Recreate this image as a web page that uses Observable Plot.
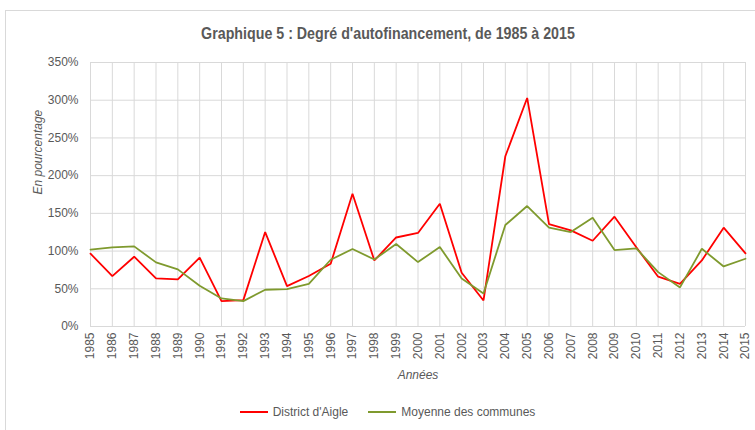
<!DOCTYPE html>
<html>
<head>
<meta charset="utf-8">
<script src="https://cdn.jsdelivr.net/npm/d3@7"></script>
<script src="https://cdn.jsdelivr.net/npm/@observablehq/plot@0.6"></script>
<style>
  html, body { margin: 0; padding: 0; background: #fff; overflow: hidden; }
  body { width: 755px; height: 430px; position: relative; font-family: "Liberation Sans Narrow", "Arial Narrow", "Liberation Sans", Arial, sans-serif; color: #595959; }
  #frame { position: absolute; left: 5px; top: 10px; width: 800px; height: 440px; border: 1px solid #d9d9d9; box-sizing: border-box; }
  #title { position: absolute; left: 0; top: 2px; width: 775px; height: 50px; text-align: center; font-weight: bold; font-size: 16px; line-height: 64px; }
  #title span { display: inline-block; transform: scaleX(0.89); transform-origin: center; }
  #chart { position: absolute; left: 0; top: 50px; }
  #legend { position: absolute; left: 0; top: 402px; width: 775px; text-align: center; font-size: 12px; line-height: 20px; }
  .sw { display: inline-block; vertical-align: middle; width: 28px; height: 2px; margin-right: 5px; position: relative; top: -1px; }
  .item { display: inline-block; margin: 0 10px; }
</style>
</head>
<body>
<div id="frame"></div>
<div id="title"><span>Graphique 5 : Degré d'autofinancement, de 1985 à 2015</span></div>
<div id="chart"></div>
<div id="legend"></div>
<script>
const years = [1985,1986,1987,1988,1989,1990,1991,1992,1993,1994,1995,1996,1997,1998,1999,2000,2001,2002,2003,2004,2005,2006,2007,2008,2009,2010,2011,2012,2013,2014,2015];
const aigle = [96.5,66.8,92.5,63.7,62.4,91.2,33.6,35,125.2,53.5,67,83.2,176,87.6,118,124,162.8,71.2,34.5,225.7,303,135.8,127.4,113.7,145.6,105,66,56.6,87.6,131,97];
const moyenne = [101.8,104.9,106.2,85,75.7,54,37.2,33.6,48.7,49.6,56.6,88.5,102.7,88.9,109.3,85.4,105.3,63.7,43.8,134.5,159.7,131,125.2,144.2,101.3,103.5,72.1,51.8,103,79.6,89.8];
const seriesNames = ["District d'Aigle", "Moyenne des communes"];
const seriesColors = ["#ff0000", "#7f9a2e"];
const yTicks = [0,50,100,150,200,250,300,350];

const rows = [];
years.forEach((yr, i) => {
  rows.push({year: yr, value: aigle[i], series: seriesNames[0]});
  rows.push({year: yr, value: moyenne[i], series: seriesNames[1]});
});

const font = '"Liberation Sans Narrow", "Arial Narrow", "Liberation Sans", Arial, sans-serif';
const chart = Plot.plot({
  width: 755,
  height: 345,
  marginLeft: 90,
  marginRight: 10,
  marginTop: 12,
  marginBottom: 69,
  style: {fontFamily: font, fontSize: "12px", color: "#595959", background: "transparent"},
  x: {domain: [1985, 2015], ticks: years},
  y: {domain: [0, 350], ticks: yTicks},
  color: {domain: seriesNames, range: seriesColors},
  marks: [
    Plot.gridX(years, {stroke: "#d9d9d9", strokeOpacity: 1}),
    Plot.gridY(yTicks, {stroke: "#d9d9d9", strokeOpacity: 1}),
    Plot.ruleY([0], {stroke: "#d9d9d9"}),
    Plot.axisX(years, {tickSize: 0, tickPadding: 6, tickRotate: -90, tickFormat: d => String(d), label: null, fontSize: 12}),
    Plot.axisY(yTicks, {tickSize: 0, tickPadding: 12, tickFormat: d => d + "%", label: null, fontSize: 12}),
    Plot.text(["En pourcentage"], {frameAnchor: "left", dx: -52, rotate: -90, fontStyle: "italic", fontSize: 12, fill: "#595959"}),
    Plot.text(["Années"], {frameAnchor: "bottom", dy: 52, fontStyle: "italic", fontSize: 12, fill: "#595959"}),
    Plot.line(rows, {x: "year", y: "value", z: "series", stroke: "series", strokeWidth: 1.8, strokeLinejoin: "miter"})
  ]
});
document.getElementById("chart").appendChild(chart);

const legend = document.getElementById("legend");
seriesNames.forEach((name, i) => {
  const item = document.createElement("span");
  item.className = "item";
  const sw = document.createElement("span");
  sw.className = "sw";
  sw.style.background = seriesColors[i];
  item.appendChild(sw);
  item.appendChild(document.createTextNode(name));
  legend.appendChild(item);
});
</script>
</body>
</html>
